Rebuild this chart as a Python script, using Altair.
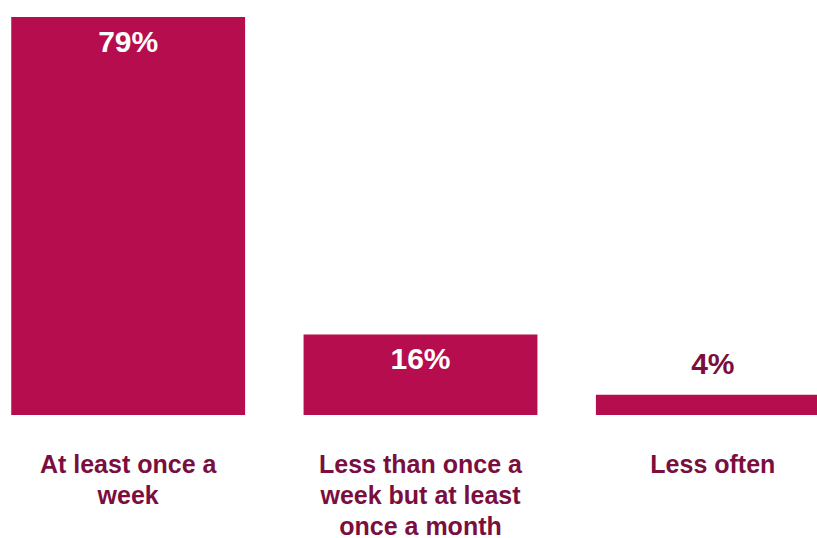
import altair as alt
import pandas as pd

categories = ["At least once a week", "Less than once a week but at least once a month", "Less often"]
label_lines = ["At least once a|week", "Less than once a|week but at least|once a month", "Less often"]
values = [79, 16, 4]
value_labels = ["79%", "16%", "4%"]

df = pd.DataFrame({"category": categories, "value": values, "label": value_labels})

BAR = "#B50D4D"
DARK = "#7A0E3E"

label_expr = " : ".join(
    [f"datum.label == '{c}' ? split('{l}', '|')" for c, l in zip(categories, label_lines)]
) + " : datum.label"

x = alt.X("category:N", sort=categories, title=None,
          scale=alt.Scale(range=[-18, 859], paddingInner=0.2, paddingOuter=0.1),
          axis=alt.Axis(domain=False, ticks=False, grid=False, labelAngle=0, labelExpr=label_expr,
                        labelFont="Liberation Sans", labelFontWeight="bold",
                        labelFontSize=25, labelColor=DARK, labelLineHeight=31,
                        labelPadding=37, labelLimit=400))
y = alt.Y("value:Q", scale=alt.Scale(domain=[0, 79], nice=False), axis=None)

base = alt.Chart(df)
bars = base.mark_bar(color=BAR).encode(x=x, y=y)
inside = base.transform_filter("datum.value >= 10").mark_text(
    color="white", font="Liberation Sans", fontWeight="bold", fontSize=30,
    baseline="middle", dy=26).encode(x=x, y=y, text="label:N")
outside = base.transform_filter("datum.value < 10").mark_text(
    color=DARK, font="Liberation Sans", fontWeight="bold", fontSize=30,
    baseline="middle", dy=-30).encode(x=x, y=y, text="label:N")

chart = alt.layer(bars, inside, outside).properties(
    width=817, height=398,
    background="white",
    autosize=alt.AutoSizeParams(type="none"),
    padding={"left": 0, "top": 17, "right": 0, "bottom": 123},
).configure_view(strokeWidth=0)

chart.save("out.html", embed_options={"renderer": "svg", "actions": False})
